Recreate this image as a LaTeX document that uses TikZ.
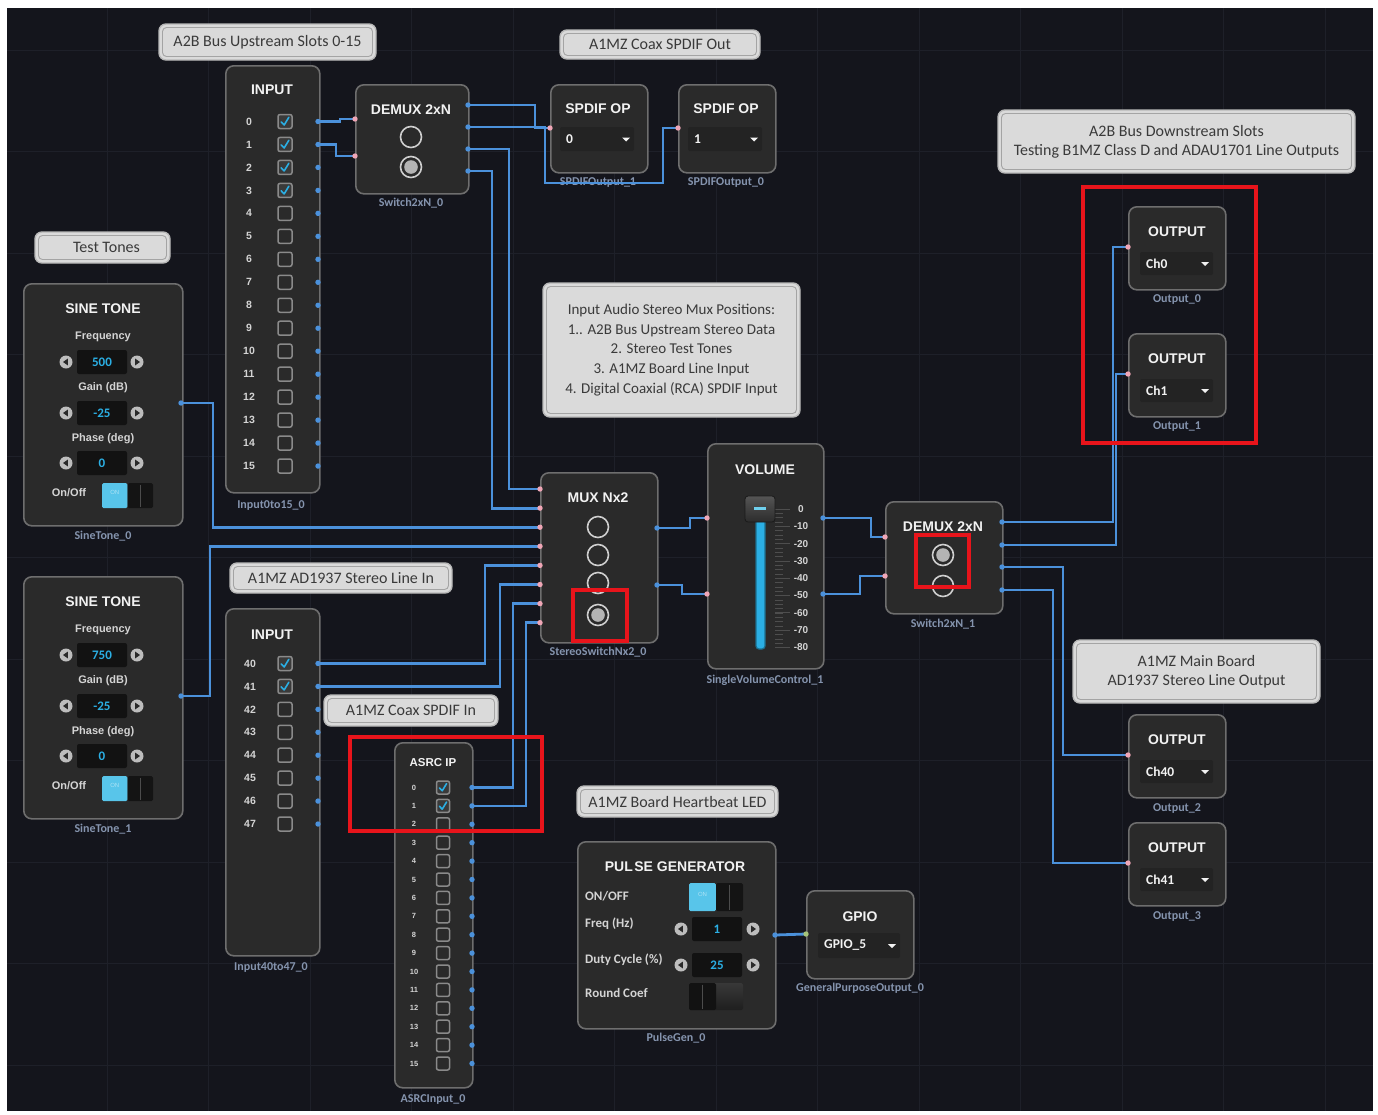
\documentclass[tikz,border=0pt]{standalone}
\usepackage{fontspec}
\setmainfont{Carlito}
\newfontfamily\headfont{Liberation Sans}
\usetikzlibrary{calc}

% palette
\definecolor{canvas}{HTML}{14151C}
\definecolor{gridc}{HTML}{1E2029}
\definecolor{modfill}{HTML}{2A2A2A}
\definecolor{modedge}{HTML}{6E6E6E}
\definecolor{wirec}{HTML}{4B91DB}
\definecolor{pinkp}{HTML}{F0A6B6}
\definecolor{greenp}{HTML}{A6C47A}
\definecolor{capc}{HTML}{8594AE}
\definecolor{notefill}{HTML}{DADADA}
\definecolor{noteedge}{HTML}{B8B8B8}
\definecolor{noteinner}{HTML}{A4A4A4}
\definecolor{notetext}{HTML}{3A3A3A}
\definecolor{titlec}{HTML}{F2F2F2}
\definecolor{lblc}{HTML}{D4D4D4}
\definecolor{cyanv}{HTML}{2BAFE4}
\definecolor{togglec}{HTML}{58C5EA}
\definecolor{redbox}{HTML}{E8141B}
\definecolor{ddfill}{HTML}{232323}
\definecolor{valfill}{HTML}{121212}
\definecolor{cbedge}{HTML}{8A8A8A}
\definecolor{cbon}{HTML}{3A3A3A}
\definecolor{radioc}{HTML}{CFCFCF}
\definecolor{radiofill}{HTML}{B4B4B4}
\definecolor{btnc}{HTML}{BDBDBD}
\definecolor{tickc}{HTML}{4E4E4E}
\definecolor{trackedge}{HTML}{1C6F8E}
\definecolor{knobtop}{HTML}{555555}
\definecolor{knobbot}{HTML}{2C2C2C}
\definecolor{knobedge}{HTML}{1A1A1A}
\definecolor{knobmark}{HTML}{6FD0EE}

\pgfdeclarelayer{dots}
\pgfsetlayers{main,dots}

\tikzset{
  module/.style={draw=modedge, fill=modfill, line width=1.6pt, rounded corners=8pt, inner sep=0pt},
  notebg/.style={draw=noteedge, fill=notefill, line width=1.4pt, rounded corners=7pt},
  noteline/.style={draw=noteinner, line width=0.9pt, rounded corners=4pt},
  wire/.style={draw=wirec, line width=2.8pt},
  gridline/.style={draw=gridc, line width=0.8pt},
  ttl/.style={font=\headfont\bfseries\fontsize{14}{16}\selectfont, text=titlec, inner sep=0pt},
  capt/.style={font=\bfseries\fontsize{12}{14}\selectfont, text=capc, inner sep=0pt},
  notetxt/.style={font=\fontsize{16}{19}\selectfont, text=notetext, align=center, inner sep=0pt},
  rowlbl/.style={font=\headfont\bfseries\fontsize{10.5}{12}\selectfont, text=lblc, inner sep=0pt},
  tinyrow/.style={font=\headfont\bfseries\fontsize{7.5}{8}\selectfont, text=lblc, inner sep=0pt},
  paramlbl/.style={font=\headfont\bfseries\fontsize{11}{13}\selectfont, text=lblc, inner sep=0pt},
  pulselbl/.style={font=\bfseries\fontsize{13}{15}\selectfont, text=lblc, inner sep=0pt, anchor=west},
  valtxt/.style={font=\bfseries\fontsize{13}{15}\selectfont, text=cyanv, inner sep=0pt},
  ddtxt/.style={font=\bfseries\fontsize{13.5}{15}\selectfont, text=titlec, inner sep=0pt, anchor=west},
  scalelbl/.style={font=\headfont\bfseries\fontsize{10}{11}\selectfont, text=lblc, inner sep=0pt},
  scaletick/.style={draw=tickc, line width=0.8pt},
  cbx/.style={draw=cbedge, fill=modfill, line width=1.5pt, rounded corners=2pt},
  cbxon/.style={draw=cbedge, fill=cbon, line width=1.5pt, rounded corners=2pt},
  tickmark/.style={draw=cyanv, line width=1.6pt, line cap=round, line join=round},
  radio/.style={draw=radioc, line width=1.6pt},
  redmark/.style={draw=redbox, line width=4pt},
}

% building blocks
\newcommand\modbox[5]{\node[module, anchor=north west, minimum width={#4-#2}, minimum height={#5-#3}] (#1) at (#2,#3) {};}
\newcommand\notebox[7][]{%
  \draw[notebg] (#3,#4) rectangle (#5,#6);
  \draw[noteline] (#3+3.5,#4+3.5) rectangle (#5-3.5,#6-3.5);
  \node[notetxt,#1] (#2) at ({(#3+#5)/2},{(#4+#6)/2}) {#7};}
\newcommand\outport[3]{\coordinate (#1) at (#2,#3);
  \begin{pgfonlayer}{dots}\fill[wirec] (#1) circle (2.7pt);\end{pgfonlayer}}
\newcommand\inport[3]{\coordinate (#1) at (#2,#3);
  \begin{pgfonlayer}{dots}\fill[pinkp] (#1) circle (2.7pt);\end{pgfonlayer}}
\newcommand\cbempty[3]{\draw[cbx] (#1-#3,#2-#3) rectangle (#1+#3,#2+#3);}
\newcommand\cbcheck[3]{\draw[cbxon] (#1-#3,#2-#3) rectangle (#1+#3,#2+#3);
  \draw[tickmark] (#1-0.55*#3,#2+0.05*#3) -- (#1-0.12*#3,#2+0.5*#3) -- (#1+0.55*#3,#2-0.6*#3);}
\newcommand\radiooff[2]{\draw[radio] (#1,#2) circle (10.5pt);}
\newcommand\radioon[2]{\draw[radio] (#1,#2) circle (10.5pt); \fill[radiofill] (#1,#2) circle (6.8pt);}
\newcommand\stepbtn[3]{\fill[btnc] (#1,#2) circle (6.5pt);
  \fill[modfill] (#1+3*#3,#2) -- (#1-1.8*#3,#2-3.4) -- (#1-1.8*#3,#2+3.4) -- cycle;}
\newcommand\valbox[3]{\fill[valfill, rounded corners=2pt] (#1-25,#2-12) rectangle (#1+25,#2+12);
  \node[valtxt] at (#1,#2) {#3};}
\newcommand\toggleon[4]{%
  \fill[togglec, rounded corners=1.5pt] (#1,#2) rectangle ({(#1+#3)/2},#4);
  \fill[black!92, rounded corners=1.5pt] ({(#1+#3)/2},#2) rectangle (#3,#4);
  \draw[black!70, line width=0.8pt] ({(#1+#3)/2+(#3-#1)/4},#2+1.5) -- ({(#1+#3)/2+(#3-#1)/4},#4-1.5);
  \node[font=\headfont\fontsize{6}{7}\selectfont, text=togglec!50!white, inner sep=0pt] at ({#1+(#3-#1)/4},{#2+(#4-#2)/2-3}) {ON};}
\newcommand\toggleoff[4]{%
  \shade[top color=black!78, bottom color=black!88, rounded corners=1.5pt] (#1,#2) rectangle (#3,#4);
  \fill[black!93, rounded corners=1.5pt] (#1,#2) rectangle ({(#1+#3)/2},#4);
  \draw[black!70, line width=0.8pt] ({#1+(#3-#1)/4},#2+1.5) -- ({#1+(#3-#1)/4},#4-1.5);}
\newcommand\dropdown[5]{%
  \fill[ddfill, rounded corners=2pt] (#1,#2) rectangle (#3,#4);
  \node[ddtxt] at (#1+6,{(#2+#4)/2}) {#5};
  \fill[titlec] (#3-12,{(#2+#4)/2-1.5}) -- (#3-4,{(#2+#4)/2-1.5}) -- (#3-8,{(#2+#4)/2+2.5}) -- cycle;}
\newcommand\spdifbox[4]{%
  \modbox{#1}{#2}{84}{#2+97}{172}
  \node[ttl] (#1-t) at (#2+48,109) {SPDIF OP};
  \dropdown{#2+10}{127}{#2+84}{151}{#3}
  \inport{#1-i}{#2}{128}
  \node[capt] (#1-c) at (#2+48,183) {#4};}
\newcommand\outbox[4]{%
  \modbox{#1}{1128}{#2}{1225}{#2+83}
  \node[ttl] (#1-t) at (1177,#2+26) {OUTPUT};
  \dropdown{1140}{#2+46}{1213}{#2+69}{#3}
  \inport{#1-i}{1128}{#2+41}
  \node[capt] (#1-c) at (1177,#2+94) {#4};}
\newcommand\sinetone[6]{%
  \begin{scope}[shift={(0,#2)}]
  \modbox{#1}{23}{283}{182}{525}
  \node[ttl] (#1-t) at (103,309) {SINE TONE};
  \node[paramlbl] at (103,337) {Frequency};
  \stepbtn{66}{362}{-1}\valbox{102}{362}{#3}\stepbtn{137}{362}{1}
  \node[paramlbl] at (103,388) {Gain (dB)};
  \stepbtn{66}{413}{-1}\valbox{102}{413}{#4}\stepbtn{137}{413}{1}
  \node[paramlbl] at (103,439) {Phase (deg)};
  \stepbtn{66}{463}{-1}\valbox{102}{463}{#5}\stepbtn{137}{463}{1}
  \node[paramlbl] at (69,493) {On/Off};
  \toggleon{102}{483}{153}{508}
  \outport{#1-o}{181}{403}
  \node[capt] (#1-c) at (103,536) {#6};
  \end{scope}}

\begin{document}
\begin{tikzpicture}[x=1pt,y=-1pt]
\useasboundingbox (0,0) rectangle (1378,1114);
\fill[white] (0,0) rectangle (1378,1114);
\fill[canvas] (7,8) rectangle (1373,1111);
\foreach \gx in {107,208.5,...,1372} {\draw[gridline] (\gx,8) -- (\gx,1111);}
\foreach \gy in {50,151.5,...,1110} {\draw[gridline] (7,\gy) -- (1373,\gy);}

% ---- comment boxes
\notebox{noteA}{159}{24}{376}{60}{A2B Bus Upstream Slots 0-15}
\notebox{noteB}{560}{30}{760}{59}{A1MZ Coax SPDIF Out}
\notebox{noteC}{35}{232}{170}{263}{\hspace*{8pt}Test Tones}
\notebox{noteD}{998}{110}{1355}{173}{A2B Bus Downstream Slots\\Testing B1MZ Class D and ADAU1701 Line Outputs}
\notebox[font=\fontsize{15}{19.7}\selectfont]{noteE}{543}{283}{800}{417}{Input Audio Stereo Mux Positions:\\1.. A2B Bus Upstream Stereo Data\\2. Stereo Test Tones\\3. A1MZ Board Line Input\\4. Digital Coaxial (RCA) SPDIF Input}
\notebox{noteF}{230}{563}{452}{593}{A1MZ AD1937 Stereo Line In}
\notebox{noteG}{324}{695}{498}{726}{A1MZ Coax SPDIF In}
\notebox{noteH}{577}{786}{778}{817}{A1MZ Board Heartbeat LED}
\notebox{noteI}{1073}{640}{1320}{703}{A1MZ Main Board\\AD1937 Stereo Line Output}

% ---- A2B upstream input slots 0-15
\modbox{inA}{225}{65}{319}{492}
\node[ttl] (inA-t) at (272,90) {INPUT};
\foreach \i in {0,...,15}{%
  \pgfmathsetmacro\yy{121.5+22.97*\i}
  \node[rowlbl] (inA-n\i) at (249,\yy) {\i};
  \ifnum\i<4 \cbcheck{285}{\yy}{7}\else \cbempty{285}{\yy}{7}\fi
  \outport{inA-o\i}{318}{\yy}}
\node[capt] (inA-c) at (271,505) {Input0to15\_0};

% ---- first 2xN demux
\modbox{dmxA}{355}{84}{468}{193}
\node[ttl] (dmxA-t) at (411,110) {DEMUX 2xN};
\radiooff{411}{137}\radioon{411}{167}
\inport{dmxA-i0}{355}{119}\inport{dmxA-i1}{355}{156}
\outport{dmxA-o0}{468}{105}\outport{dmxA-o1}{468}{127}
\outport{dmxA-o2}{468}{149}\outport{dmxA-o3}{468}{171}
\node[capt] (dmxA-c) at (411,203) {Switch2xN\_0};

% ---- SPDIF outputs
\spdifbox{spA}{550}{0}{SPDIFOutput\_1}
\spdifbox{spB}{678}{1}{SPDIFOutput\_0}

% ---- sine tone generators
\sinetone{sineA}{0}{500}{-25}{0}{SineTone\_0}
\sinetone{sineB}{293}{750}{-25}{0}{SineTone\_1}

% ---- AD1937 line input slots 40-47
\modbox{inB}{225}{608}{319}{955}
\node[ttl] (inB-t) at (272,635) {INPUT};
\foreach \k in {0,...,7}{%
  \pgfmathsetmacro\yy{663.5+22.93*\k}
  \pgfmathtruncatemacro\lbl{40+\k}
  \node[rowlbl] (inB-n\k) at (250,\yy) {\lbl};
  \ifnum\k<2 \cbcheck{285}{\yy}{7}\else \cbempty{285}{\yy}{7}\fi
  \outport{inB-o\k}{318}{\yy}}
\node[capt] (inB-c) at (271,967) {Input40to47\_0};

% ---- ASRC input
\modbox{asrc}{394}{742}{472}{1087}
\node[ttl, font=\headfont\bfseries\fontsize{11.5}{13}\selectfont] (asrc-t) at (433,763) {ASRC IP};
\foreach \k in {0,...,15}{%
  \pgfmathsetmacro\yy{787.5+18.4*\k}
  \node[tinyrow] (asrc-n\k) at (414,\yy) {\k};
  \ifnum\k<2 \cbcheck{443}{\yy}{6.5}\else \cbempty{443}{\yy}{6.5}\fi
  \outport{asrc-o\k}{472}{\yy}}
\node[capt] (asrc-c) at (433,1099) {ASRCInput\_0};

% ---- stereo mux
\modbox{mux}{540}{472}{657}{642}
\node[ttl] (mux-t) at (598,498) {MUX Nx2};
\radiooff{598}{527}\radiooff{598}{555}\radiooff{598}{583}\radioon{598}{615}
\foreach \k in {0,...,7}{\pgfmathsetmacro\yy{489+19.1*\k}\inport{mux-i\k}{540}{\yy}}
\outport{mux-o0}{657}{528}\outport{mux-o1}{657}{585}
\node[capt] (mux-c) at (598,652) {StereoSwitchNx2\_0};

% ---- volume
\modbox{vol}{707}{443}{823}{668}
\node[ttl] (vol-t) at (765,470) {VOLUME};
\foreach \k in {0,...,31}{\pgfmathsetmacro\yy{509+4.325*\k}\draw[scaletick, line width=0.5pt] (775,\yy) -- (783,\yy);}
\foreach \k in {0,...,8}{%
  \pgfmathsetmacro\yy{509+17.3*\k}
  \pgfmathtruncatemacro\lbl{-10*\k}
  \draw[scaletick] (775,\yy) -- (790,\yy);
  \node[scalelbl] (vol-n\k) at (801,\yy) {\lbl};}
\draw[fill=cyanv, draw=trackedge, line width=1.2pt, rounded corners=3pt] (756,517) rectangle (765,649);
\shade[top color=knobtop, bottom color=knobbot, rounded corners=3pt] (745,496) rectangle (775,522);
\draw[knobedge, line width=0.8pt, rounded corners=3pt] (745,496) rectangle (775,522);
\draw[knobmark, line width=2.6pt] (754,508.5) -- (766,508.5);
\inport{vol-i0}{707}{518}\inport{vol-i1}{707}{594}
\outport{vol-o0}{823}{518}\outport{vol-o1}{823}{594}
\node[capt] (vol-c) at (765,680) {SingleVolumeControl\_1};

% ---- second 2xN demux
\modbox{dmxB}{885}{501}{1002}{613}
\node[ttl] (dmxB-t) at (943,527) {DEMUX 2xN};
\radioon{943}{555}\radiooff{943}{586}
\inport{dmxB-i0}{885}{537}\inport{dmxB-i1}{885}{576}
\outport{dmxB-o0}{1002}{522}\outport{dmxB-o1}{1002}{545}
\outport{dmxB-o2}{1002}{567}\outport{dmxB-o3}{1002}{590}
\node[capt] (dmxB-c) at (943,624) {Switch2xN\_1};

% ---- outputs
\outbox{outA}{206}{Ch0}{Output\_0}
\outbox{outB}{333}{Ch1}{Output\_1}
\outbox{outC}{714}{Ch40}{Output\_2}
\outbox{outD}{822}{Ch41}{Output\_3}

% ---- pulse generator
\modbox{pulse}{577}{841}{775}{1028}
\node[ttl] (pulse-t) at (675,867) {PUL\kern1.5pt SE GENERATOR};
\node[pulselbl] (pulse-l1) at (585,896) {ON/OFF};
\toggleon{689}{883}{743}{911}
\node[pulselbl] (pulse-l2) at (585,924) {Freq (Hz)};
\stepbtn{681}{929}{-1}\valbox{717}{929}{1}\stepbtn{753}{929}{1}
\node[pulselbl] (pulse-l3) at (585,960) {Duty Cycle (\%)};
\stepbtn{681}{965}{-1}\valbox{717}{965}{25}\stepbtn{753}{965}{1}
\node[pulselbl] (pulse-l4) at (585,993) {Round Coef};
\toggleoff{689}{983}{743}{1010}
\outport{pulse-o}{775}{935}
\node[capt] (pulse-c) at (676,1038) {PulseGen\_0};

% ---- GPIO
\modbox{gpio}{806}{890}{913}{978}
\node[ttl] (gpio-t) at (860,917) {GPIO};
\dropdown{818}{933}{900}{958}{GPIO\_5}
\coordinate (gpio-i) at (806,934);
\node[capt] (gpio-c) at (860,988) {GeneralPurposeOutput\_0};

% ---- connections
\draw[wire] (inA-o0) -- ++(22,0) |- (dmxA-i0);
\draw[wire] (inA-o1) -- ++(18,0) |- (dmxA-i1);
\draw[wire] (dmxA-o0) -| ($(spA-i)+(-15,0)$) -- (spA-i);
\draw[wire] (dmxA-o1) -- ++(77,0) -- ++(0,56) -| ($(spB-i)+(-15,0)$) -- (spB-i);
\draw[wire] (dmxA-o2) -| ($(mux-i0)+(-31,0)$) -- (mux-i0);
\draw[wire] (dmxA-o3) -| ($(mux-i1)+(-48,0)$) -- (mux-i1);
\draw[wire] (sineA-o) -- ++(32,0) |- (mux-i2);
\draw[wire] (sineB-o) -- ++(29,0) |- (mux-i3);
\draw[wire] (inB-o0) -| ($(mux-i4)+(-55,0)$) -- (mux-i4);
\draw[wire] (inB-o1) -| ($(mux-i5)+(-40,0)$) -- (mux-i5);
\draw[wire] (asrc-o0) -| ($(mux-i6)+(-27,0)$) -- (mux-i6);
\draw[wire] (asrc-o1) -| ($(mux-i7)+(-14,0)$) -- (mux-i7);
\draw[wire] (mux-o0) -| ($(vol-i0)+(-17,0)$) -- (vol-i0);
\draw[wire] (mux-o1) -| ($(vol-i1)+(-25,0)$) -- (vol-i1);
\draw[wire] (vol-o0) -| ($(dmxB-i0)+(-14,0)$) -- (dmxB-i0);
\draw[wire] (vol-o1) -| ($(dmxB-i1)+(-25,0)$) -- (dmxB-i1);
\draw[wire] (dmxB-o0) -| ($(outA-i)+(-15,0)$) -- (outA-i);
\draw[wire] (dmxB-o1) -| ($(outB-i)+(-12,0)$) -- (outB-i);
\draw[wire] (dmxB-o2) -| ($(outC-i)+(-65,0)$) -- (outC-i);
\draw[wire] (dmxB-o3) -| ($(outD-i)+(-75,0)$) -- (outD-i);
\draw[wire] (pulse-o) -- (gpio-i);

% ---- highlight frames
\begin{pgfonlayer}{dots}
\fill[greenp] (gpio-i) circle (2.7pt);
\draw[redmark] (1083,187) rectangle (1256,443);
\draw[redmark] (573,590) rectangle (627,641);
\draw[redmark] (916,535) rectangle (969,587);
\draw[redmark] (350,737) rectangle (542,831);
\end{pgfonlayer}
\end{tikzpicture}
\end{document}
